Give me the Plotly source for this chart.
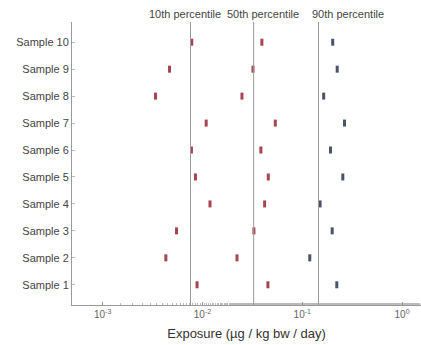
import math
import plotly.graph_objects as go

samples = ["Sample 1", "Sample 2", "Sample 3", "Sample 4", "Sample 5",
           "Sample 6", "Sample 7", "Sample 8", "Sample 9", "Sample 10"]
p10 = [0.00883, 0.00430, 0.00550, 0.0119, 0.00851, 0.00776, 0.0109, 0.00339, 0.00468, 0.00782]
p50 = [0.0453, 0.0222, 0.0328, 0.0420, 0.0457, 0.0385, 0.0537, 0.0249, 0.0321, 0.0394]
p90 = [0.222, 0.119, 0.1995, 0.151, 0.255, 0.192, 0.265, 0.164, 0.224, 0.202]
ref_values = [0.00759, 0.0326, 0.1455]
ref_labels = ["10th percentile", "50th percentile", "90th percentile"]
label_shift = [-5, 9, 30]
x_tickvals = [0.001, 0.01, 0.1, 1]
x_ticktext = ["10<sup>-3</sup>", "10<sup>-2</sup>", "10<sup>-1</sup>", "10<sup>0</sup>"]

ypos = list(range(1, len(samples) + 1))
red = "#a8434f"
dark = "#4a5468"
font = "Liberation Sans, Arial, sans-serif"

fig = go.Figure()
for vals, col in [(p10, red), (p50, red), (p90, dark)]:
    fig.add_trace(go.Scatter(
        x=vals, y=ypos, mode="markers",
        marker=dict(symbol="line-ns", size=5, line=dict(width=3, color=col), color=col),
        showlegend=False, hoverinfo="x"))

for v, lab, sh in zip(ref_values, ref_labels, label_shift):
    fig.add_shape(type="line", xref="x", yref="paper", x0=v, x1=v, y0=0, y1=1,
                  line=dict(color="#9a9a9a", width=1))
    fig.add_annotation(x=math.log10(v), xref="x", y=1, yref="paper", yanchor="bottom",
                       text=lab, showarrow=False, xshift=sh, yshift=0,
                       font=dict(family=font, size=11, color="#444"))

fig.update_layout(
    width=421, height=345,
    margin=dict(l=72, r=0, t=22, b=40),
    plot_bgcolor="white", paper_bgcolor="white",
    font=dict(family=font, size=11, color="#444"),
    xaxis=dict(type="log", range=[-3.307, 0.19], tickvals=x_tickvals, ticktext=x_ticktext,
               automargin=False,
               showgrid=False, zeroline=False, showline=True, linecolor="#999",
               linewidth=1, ticks="inside", ticklen=3, tickcolor="#999",
               minor=dict(ticks="inside", ticklen=2, tickcolor="#bbb", showgrid=False),
               tickfont=dict(size=10, color="#666"),
               title=dict(text="Exposure (µg / kg bw / day)", font=dict(size=13, color="#333"), standoff=9)),
    yaxis=dict(range=[0.25, 10.75], tickvals=ypos, ticktext=samples, automargin=False,
               showgrid=False, zeroline=False, showline=True, linecolor="#999",
               linewidth=1, ticks="inside", ticklen=3, tickcolor="#bbb",
               tickfont=dict(size=11, color="#444")),
)
fig.write_html("out.html", config={"displayModeBar": False},
               post_script="document.body.style.margin='0';document.body.style.overflow='hidden';")
